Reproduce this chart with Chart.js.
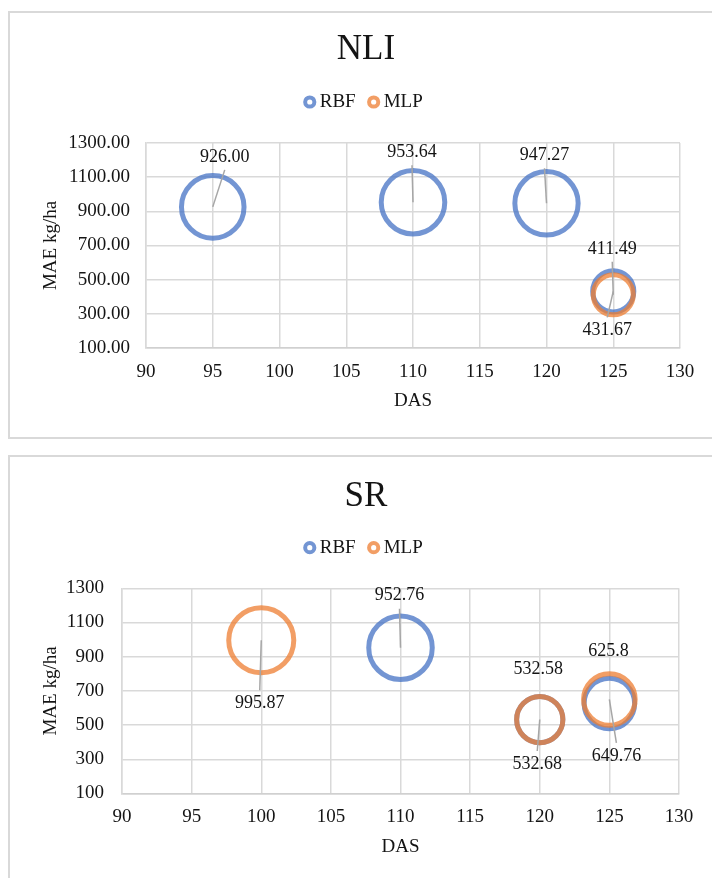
<!DOCTYPE html>
<html><head><meta charset="utf-8">
<script src="https://cdn.jsdelivr.net/npm/chart.js@4.4.1/dist/chart.umd.min.js"></script>
<style>
html,body{margin:0;padding:0;background:#fff;overflow:hidden;width:712px;height:878px;position:relative}
.box{position:absolute;left:8px;width:740px;border:2px solid #d9d9d9;box-sizing:border-box}
#box1{top:11px;height:428px}
#box2{top:455px;height:440px}
.wrap{position:absolute;left:0;width:732px}
#w1{top:0;height:440px}
#w2{top:444px;height:434px}
</style></head><body>
<div class="box" id="box1"></div><div class="box" id="box2"></div>
<div class="wrap" id="w1"><canvas id="c1" width="732" height="440"></canvas></div>
<div class="wrap" id="w2"><canvas id="c2" width="732" height="434"></canvas></div>
<script>
// ---- data ----
const seriesNames = ['RBF', 'MLP'];
const dasTicks = [90, 95, 100, 105, 110, 115, 120, 125, 130];
const maeTicks = [100, 300, 500, 700, 900, 1100, 1300];

const nliRbfDas = [95, 110, 120, 125];
const nliRbfMae = [926.00, 953.64, 947.27, 431.67];
const nliMlpDas = [125];
const nliMlpMae = [411.49];

const srRbfDas = [110, 120, 125];
const srRbfMae = [952.76, 532.58, 625.8];
const srMlpDas = [100, 120, 125];
const srMlpMae = [995.87, 532.68, 649.76];

// ---- style ----
const FONT = '"Liberation Serif", "Times New Roman", serif';
const TEXT = '#141414';
const BLUE = 'rgba(68,114,196,0.75)';
const ORANGE = 'rgba(237,125,49,0.75)';
const RING = 5;
// bubble area proportional to value
function bubbleR(v) { return 1.11 * Math.sqrt(v) - RING / 2; }
function pts(xs, ys) { return xs.map((x, i) => ({ x: x, y: ys[i], r: bubbleR(ys[i]) })); }

function labelPlugin(placement, fmt) {
  return {
    id: 'dataLabels',
    afterDatasetsDraw(chart) {
      const ctx = chart.ctx;
      ctx.save();
      const items = [];
      chart.data.datasets.forEach((ds, i) => {
        const meta = chart.getDatasetMeta(i);
        meta.data.forEach((el, j) => {
          const p = placement[i][j];
          const lx = el.x + p[0], ly = el.y + p[1];
          if (p[2]) {
            ctx.strokeStyle = '#a6a6a6'; ctx.lineWidth = 1.5;
            ctx.beginPath(); ctx.moveTo(el.x, el.y);
            ctx.lineTo(lx, ly + (p[1] < 0 ? 13 : -13)); ctx.stroke();
          }
          items.push([fmt(ds.data[j].y), lx, ly]);
        });
      });
      ctx.font = '18px ' + FONT;
      ctx.fillStyle = TEXT; ctx.textAlign = 'center'; ctx.textBaseline = 'middle';
      items.forEach(t => ctx.fillText(t[0], t[1], t[2]));
      ctx.restore();
    }
  };
}

function makeChart(id, title, rbf, mlp, g, yFmt, placement, lblFmt) {
  const font = { family: FONT, size: 19 };
  return new Chart(document.getElementById(id), {
    type: 'bubble',
    data: {
      datasets: [
        { label: seriesNames[0], data: rbf, borderColor: BLUE, backgroundColor: 'rgba(0,0,0,0)', borderWidth: RING, order: 1, xAxisID: 'x', yAxisID: 'y' },
        { label: seriesNames[1], data: mlp, borderColor: ORANGE, backgroundColor: 'rgba(0,0,0,0)', borderWidth: RING, order: 0, xAxisID: 'x', yAxisID: 'y' }
      ]
    },
    options: {
      responsive: false, animation: false, devicePixelRatio: 1, events: [],
      layout: { padding: 0 },
      plugins: {
        title: { display: true, text: title, color: TEXT, font: { family: FONT, size: 35, weight: 'normal' }, padding: { top: g.titleTop, bottom: g.titleBottom } },
        legend: {
          display: true, position: 'top',
          labels: {
            usePointStyle: true, pointStyle: 'circle', boxWidth: 1, boxHeight: 6.5, padding: 17.5,
            font: font, color: TEXT,
            sort: (a, b) => a.datasetIndex - b.datasetIndex,
            generateLabels: chart => Chart.defaults.plugins.legend.labels.generateLabels(chart).map(l => Object.assign(l, { lineWidth: 4, fillStyle: 'rgba(0,0,0,0)' }))
          }
        },
        tooltip: { enabled: false }
      },
      scales: {
        x: {
          type: 'linear', position: 'bottom', min: 90, max: 130,
          afterBuildTicks: s => { s.ticks = dasTicks.map(v => ({ value: v })); },
          afterFit: s => { s.height = g.xAxisH; },
          grid: { color: '#d9d9d9', lineWidth: 1.5, drawTicks: false },
          border: { color: '#d0d0d0', width: 1.5 },
          ticks: { padding: g.xTickPad, font: font, color: TEXT, maxRotation: 0, autoSkip: false },
          title: { display: true, text: 'DAS', font: font, color: TEXT, padding: { top: 0, bottom: g.xTitlePad } }
        },
        y: {
          type: 'linear', position: 'left', min: 100, max: 1300,
          afterBuildTicks: s => { s.ticks = maeTicks.map(v => ({ value: v })); },
          afterFit: s => { s.width = g.yAxisW; },
          grid: { color: '#d9d9d9', lineWidth: 1.5, drawTicks: false },
          border: { color: '#d9d9d9', width: 1.5 },
          ticks: { padding: g.yTickPad, font: font, color: TEXT, callback: yFmt },
          title: { display: true, text: 'MAE kg/ha', font: font, color: TEXT, padding: { top: g.yTitlePad, bottom: 0 } }
        },
        gapTop: {
          type: 'linear', position: 'top', display: true,
          grid: { display: false }, border: { display: false }, ticks: { display: false },
          afterFit: s => { s.height = g.topGap; }
        },
        gapRight: {
          type: 'linear', position: 'right', display: true,
          grid: { display: false }, border: { display: false }, ticks: { display: false },
          afterFit: s => { s.width = g.rightGap; }
        }
      }
    },
    plugins: [labelPlugin(placement, lblFmt)]
  });
}

// label placement (pixel offsets from bubble centre, leader line flag)
const nliPlacement = [
  [[12, -50, true], [-1, -50, true], [-2, -48, true], [-6, 39, true]],
  [[-1, -46, true]]
];
const srPlacement = [
  [[-1, -52, true], [-1.5, -50, false], [-1, -52, false]],
  [[-1.5, 63, true], [-2.5, 44.5, true], [7, 56.5, true]]
];

makeChart('c1', 'NLI', pts(nliRbfDas, nliRbfMae), pts(nliMlpDas, nliMlpMae),
  { titleTop: 29, titleBottom: 4, topGap: 21.5, xAxisH: 92, xTickPad: 12.6, xTitlePad: 27.6, yAxisW: 146, yTickPad: 16, yTitlePad: 39.6, rightGap: 52 },
  v => Number(v).toFixed(2), nliPlacement, v => v.toFixed(2));

makeChart('c2', 'SR', pts(srRbfDas, srRbfMae), pts(srMlpDas, srMlpMae),
  { titleTop: 32, titleBottom: 2.7, topGap: 21.1, xAxisH: 84.5, xTickPad: 11.8, xTitlePad: 19.9, yAxisW: 122, yTickPad: 18, yTitlePad: 39.6, rightGap: 53 },
  v => String(v), srPlacement, v => String(v));
</script>
</body></html>
